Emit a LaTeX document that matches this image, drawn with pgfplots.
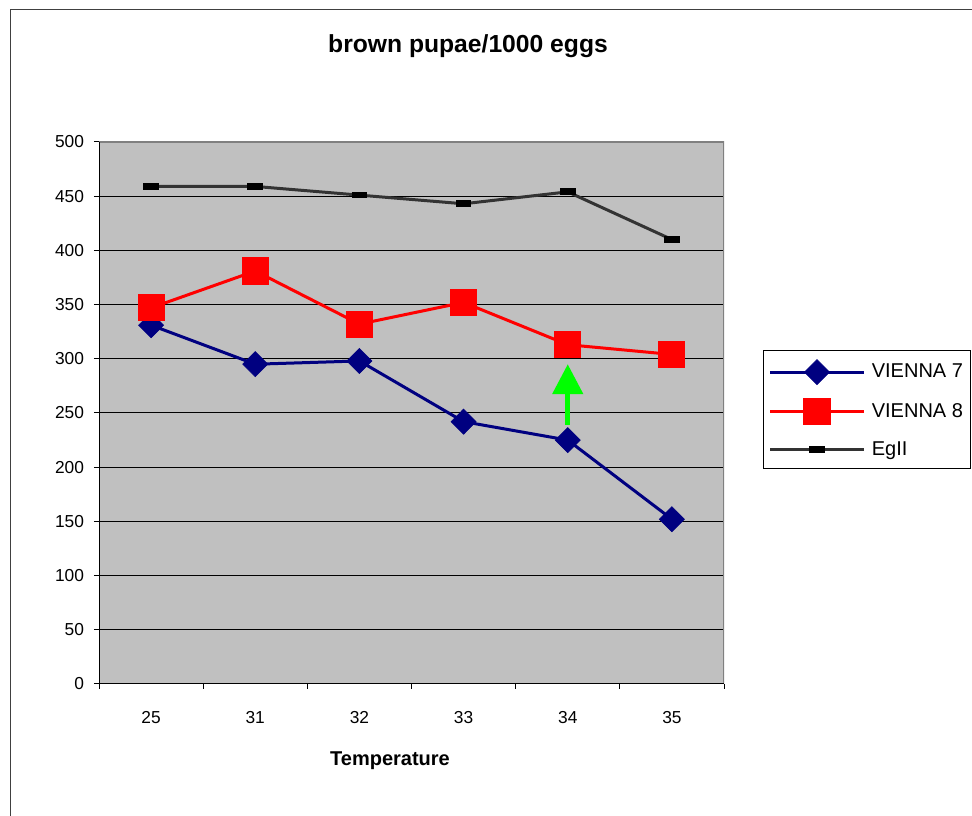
\documentclass[border=0pt]{standalone}
\usepackage{fontspec}
\setmainfont{Liberation Sans}
\usepackage{pgfplots}
\pgfplotsset{compat=1.18}
\usetikzlibrary{arrows.meta}

\definecolor{plotgray}{RGB}{192,192,192}
\definecolor{navyline}{RGB}{0,0,128}
\definecolor{egline}{RGB}{51,51,51}
\definecolor{bordergray}{RGB}{128,128,128}
\definecolor{arrowgreen}{RGB}{0,255,0}

\begin{document}
\begin{tikzpicture}
\path[use as bounding box] (0,0) rectangle (729pt,612pt);
% chart area frame (only its top and left edges fall inside the page)
\begin{scope}
  \clip (0,0) rectangle (729pt,612pt);
  \draw[black!75, line width=0.75pt] (7.9pt,-10pt) |- (740pt,605.2pt);
\end{scope}

\begin{axis}[
  at={(74.25pt,99pt)}, anchor=south west,
  scale only axis, width=468.75pt, height=406.5pt,
  xmin=-0.5, xmax=5.5, ymin=0, ymax=500,
  axis background/.style={fill=plotgray},
  axis line style={draw=none},
  /pgf/number format/assume math mode=true,
  tick label style={font=\fontsize{13}{15}\selectfont},
  tick align=outside,
  xtick pos=left, ytick pos=left,
  major tick length=3.75pt,
  tick style={black, line width=0.75pt},
  xtick={-0.5,0.5,...,5.5},
  xticklabels={},
  extra x ticks={0,1,2,3,4,5},
  extra x tick labels={25,31,32,33,34,35},
  extra x tick style={major tick length=0pt, xticklabel style={yshift=-17pt}},
  ytick={0,50,...,450},
  extra y ticks={500},
  extra y tick style={grid=none},
  ymajorgrids,
  major grid style={black, line width=0.75pt},
  yticklabel style={xshift=-4pt},
  legend style={
    at={(1.0624,0.6162)}, anchor=north west,
    draw=black, line width=0.75pt, fill=white,
    font=\fontsize{15}{18}\selectfont,
    inner xsep=4pt, inner ysep=6.75pt, row sep=10.5pt,
    /tikz/every odd column/.append style={column sep=3pt},
  },
  legend cell align=left,
  legend image code/.code={%
    \draw[mark repeat=2, mark phase=2, #1]
      plot coordinates {(0pt,0pt) (35pt,0pt) (70pt,0pt)};},
]
\addplot[navyline, line width=2.25pt, mark=diamond*,
  mark size=9.4pt, mark options={solid, fill=navyline, draw=navyline, line width=0.5pt, xscale=1.33}]
  coordinates {(0,331) (1,295) (2,298) (3,242) (4,225) (5,152)};
\addlegendentry{VIENNA 7}

\addplot[red, line width=2.25pt, mark=square*,
  mark size=9.8pt, mark options={solid, fill=red, draw=red, line width=0pt}]
  coordinates {(0,347) (1,381) (2,332) (3,352) (4,313) (5,304)};
\addlegendentry{VIENNA 8}

\addplot[egline, line width=2.25pt, mark=square*,
  mark size=5.5pt, mark options={solid, fill=black, draw=black, line width=0pt, yscale=0.39}]
  coordinates {(0,459) (1,459) (2,451) (3,443) (4,454) (5,410)};
\addlegendentry{EgII}

% rise marked at 34 degrees
\draw[arrowgreen, line width=3.75pt, -{Triangle[width=22.5pt,length=22.5pt]}]
  (axis cs:4,239) -- (axis cs:4,295);

% plot area border and axis lines
\draw[bordergray, line width=1.5pt] (rel axis cs:0,1) -- (rel axis cs:1,1) -- (rel axis cs:1,0);
\draw[black, line width=0.75pt] (rel axis cs:0,1) -- (rel axis cs:0,0) -- (rel axis cs:1,0);
\end{axis}

\node[font=\fontsize{18.5}{22}\selectfont\bfseries] at (351pt,577pt) {brown pupae/1000 eggs};
\node[font=\fontsize{15}{18}\selectfont\bfseries] at (292.5pt,41.25pt) {Temperature};
\end{tikzpicture}
\end{document}
